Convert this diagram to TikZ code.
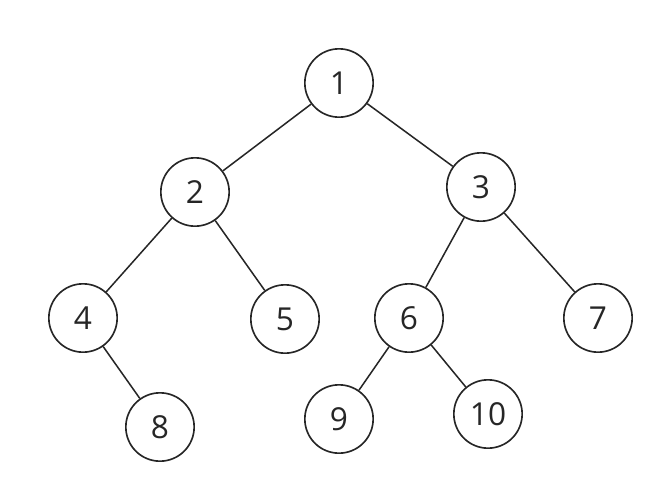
\documentclass[tikz,border=0pt]{standalone}
\usepackage{fontspec}
\setmainfont{Open Sans}
\usepackage{tikz}
\usetikzlibrary{positioning}
\tikzstyle{vertex}=[draw,circle,line width=1.4pt,black!85,minimum size=2.05cm,inner sep=0,text=black!85,font=\fontsize{27}{30}\selectfont]
\tikzstyle{branch}=[draw,line width=1.3pt,black!85]

\begin{document}
\begin{tikzpicture}[x=0.03cm,y=-0.03cm]
	\useasboundingbox (0,0) rectangle (665,493);

	\node[vertex] (n1) at (339,83) {1};
	\node[vertex] (n2) at (195,192) {2};
	\node[vertex] (n3) at (481,187) {3};
	\node[vertex] (n4) at (83,318) {4};
	\node[vertex] (n5) at (285,319) {5};
	\node[vertex] (n6) at (409,318) {6};
	\node[vertex] (n7) at (598,318) {7};
	\node[vertex] (n8) at (160,427) {8};
	\node[vertex] (n9) at (339,419) {9};
	\node[vertex] (n10) at (488,414) {10};

	\path[branch] (n1) -- (n2);
	\path[branch] (n1) -- (n3);

	\path[branch] (n2) -- (n4);
	\path[branch] (n2) -- (n5);
	\path[branch] (n3) -- (n6);
	\path[branch] (n3) -- (n7);

	\path[branch] (n4) -- (n8);
	\path[branch] (n6) -- (n9);
	\path[branch] (n6) -- (n10);

\end{tikzpicture}
\end{document}
